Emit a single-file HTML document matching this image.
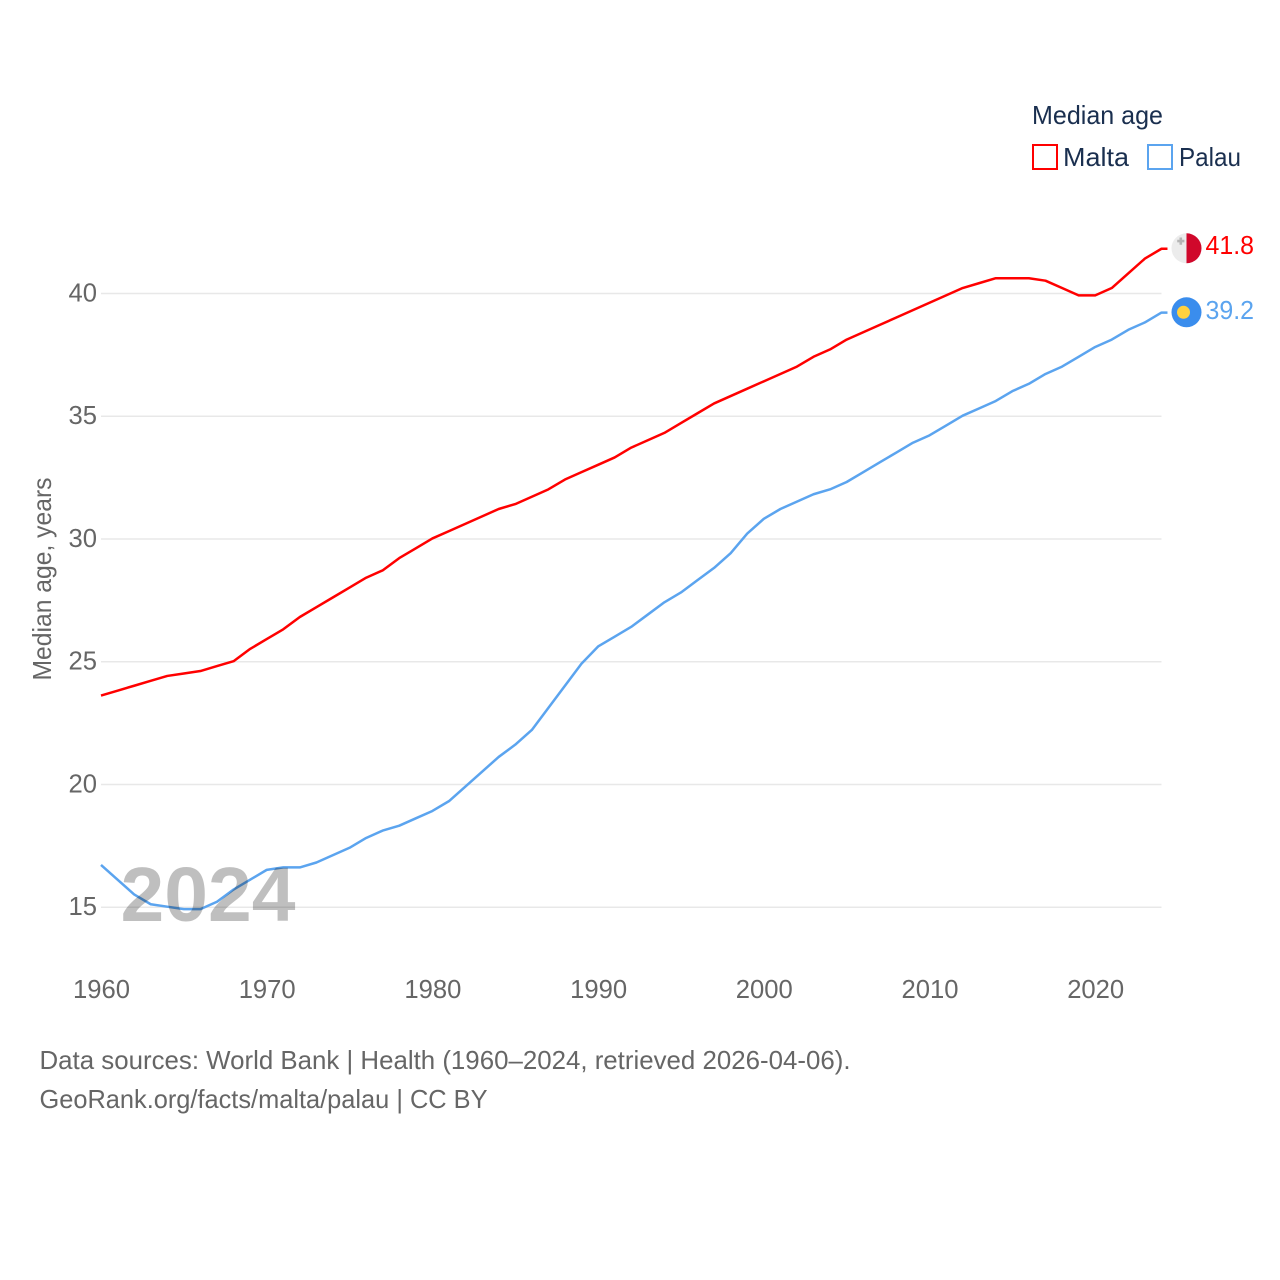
<!DOCTYPE html>
<html lang="en">
<head>
<meta charset="utf-8">
<title>Median age: Malta and Palau</title>
<style>
html,body{margin:0;padding:0;background:#fff}
svg{display:block;font-family:"Liberation Sans",sans-serif}
</style>
</head>
<body>
<svg id="chart" width="1280" height="1280" viewBox="0 0 1280 1280" xmlns="http://www.w3.org/2000/svg">
  <defs>
    <clipPath id="malta-clip"><circle cx="1186.5" cy="248.3" r="15"/></clipPath>
  </defs>
  <rect width="1280" height="1280" fill="#fff"/>
  <g id="grid"></g>
  <g id="y-ticks"></g>
  <g id="x-ticks"></g>
  <text transform="translate(51 579) rotate(-90)" text-anchor="middle" font-size="26" fill="#666" textLength="203" lengthAdjust="spacingAndGlyphs">Median age, years</text>
  <g id="series"></g>
  <text x="120.5" y="921" font-size="77" font-weight="700" fill="#000" fill-opacity="0.25" textLength="175" lengthAdjust="spacingAndGlyphs">2024</text>

  <g>
    <g clip-path="url(#malta-clip)">
      <rect x="1171" y="233" width="15.5" height="31" fill="#ececec"/>
      <rect x="1186.5" y="233" width="15.5" height="31" fill="#d0082b"/>
      <path d="M1179.5 237.5h2.6v2.3h2.3v2.6h-2.3v2.3h-2.6v-2.3h-2.3v-2.6h2.3z" fill="#b5b5b5"/>
    </g>
  </g>
  <g>
    <circle cx="1186.5" cy="312.3" r="15" fill="#3a8ded"/>
    <circle cx="1183.5" cy="312.3" r="6.5" fill="#ffd13f"/>
  </g>
  <text x="1205.5" y="254" font-size="26" fill="#ff0000" textLength="48.5" lengthAdjust="spacingAndGlyphs">41.8</text>
  <text x="1205.5" y="319" font-size="26" fill="#5ba4ef" textLength="48.5" lengthAdjust="spacingAndGlyphs">39.2</text>

  <g>
    <text x="1032" y="124" font-size="26" fill="#1a2f4f" textLength="131" lengthAdjust="spacingAndGlyphs">Median age</text>
    <g>
      <rect x="1033" y="145" width="24" height="24" fill="#fff" stroke="#ff0000" stroke-width="2"/>
      <text x="1063" y="166" font-size="26" fill="#1a2f4f" textLength="66" lengthAdjust="spacingAndGlyphs">Malta</text>
    </g>
    <g>
      <rect x="1148" y="145" width="24" height="24" fill="#fff" stroke="#5ba4ef" stroke-width="2"/>
      <text x="1179" y="166" font-size="26" fill="#1a2f4f" textLength="62" lengthAdjust="spacingAndGlyphs">Palau</text>
    </g>
  </g>

  <g>
    <text x="39.5" y="1069" font-size="26" fill="#666" textLength="811" lengthAdjust="spacingAndGlyphs">Data sources: World Bank | Health (1960–2024, retrieved 2026-04-06).</text>
    <text x="39.5" y="1108" font-size="26" fill="#666" textLength="448" lengthAdjust="spacingAndGlyphs">GeoRank.org/facts/malta/palau | CC BY</text>
  </g>
</svg>
<script>
const startYear = 1960;
const maltaValues = [23.6,23.8,24.0,24.2,24.4,24.5,24.6,24.8,25.0,25.5,25.9,26.3,26.8,27.2,27.6,28.0,28.4,28.7,29.2,29.6,30.0,30.3,30.6,30.9,31.2,31.4,31.7,32.0,32.4,32.7,33.0,33.3,33.7,34.0,34.3,34.7,35.1,35.5,35.8,36.1,36.4,36.7,37.0,37.4,37.7,38.1,38.4,38.7,39.0,39.3,39.6,39.9,40.2,40.4,40.6,40.6,40.6,40.5,40.2,39.9,39.9,40.2,40.8,41.4,41.8];
const palauValues = [16.7,16.1,15.5,15.1,15.0,14.9,14.9,15.2,15.7,16.1,16.5,16.6,16.6,16.8,17.1,17.4,17.8,18.1,18.3,18.6,18.9,19.3,19.9,20.5,21.1,21.6,22.2,23.1,24.0,24.9,25.6,26.0,26.4,26.9,27.4,27.8,28.3,28.8,29.4,30.2,30.8,31.2,31.5,31.8,32.0,32.3,32.7,33.1,33.5,33.9,34.2,34.6,35.0,35.3,35.6,36.0,36.3,36.7,37.0,37.4,37.8,38.1,38.5,38.8,39.2];
const yTickValues = [15,20,25,30,35,40];
const xTickValues = [1960,1970,1980,1990,2000,2010,2020];

const NS = 'http://www.w3.org/2000/svg';
function xScale(year){ return 101 + (year - 1960) * 16.57; }
function yScale(v){ return 907.2 - (v - 15) * 24.55; }
function lineY(v){ return yScale(v) - 0.5; }

const gridGroup = document.getElementById('grid');
const yGroup = document.getElementById('y-ticks');
const xGroup = document.getElementById('x-ticks');
const seriesGroup = document.getElementById('series');

yTickValues.forEach(function(v){
  const line = document.createElementNS(NS, 'line');
  
  
  line.setAttribute('x1', xScale(1960));
  line.setAttribute('x2', xScale(2024));
  line.setAttribute('y1', yScale(v));
  line.setAttribute('y2', yScale(v));
  line.setAttribute('stroke', '#e8e8e8');
  line.setAttribute('stroke-width', '1.5');
  gridGroup.appendChild(line);

  const label = document.createElementNS(NS, 'text');
  
  
  label.setAttribute('x', 97);
  label.setAttribute('y', yScale(v) + 8);
  label.setAttribute('text-anchor', 'end');
  label.setAttribute('font-size', '26');
  label.setAttribute('fill', '#666');
  label.setAttribute('textLength', '28.5');
  label.setAttribute('lengthAdjust', 'spacingAndGlyphs');
  label.textContent = v;
  yGroup.appendChild(label);
});

xTickValues.forEach(function(y){
  const label = document.createElementNS(NS, 'text');
  
  
  label.setAttribute('x', xScale(y) + 0.5);
  label.setAttribute('y', 998);
  label.setAttribute('text-anchor', 'middle');
  label.setAttribute('font-size', '26');
  label.setAttribute('fill', '#666');
  label.setAttribute('textLength', '57');
  label.setAttribute('lengthAdjust', 'spacingAndGlyphs');
  label.textContent = y;
  xGroup.appendChild(label);
});

function linePath(values){
  let d = '';
  values.forEach(function(v, i){
    d += (i ? 'L' : 'M') + xScale(startYear + i).toFixed(2) + ' ' + lineY(v).toFixed(2);
  });
  const lastYear = startYear + values.length - 1;
  d += 'L' + (xScale(lastYear) + 6).toFixed(2) + ' ' + lineY(values[values.length - 1]).toFixed(2);
  return d;
}

const maltaLine = document.createElementNS(NS, 'path');


maltaLine.setAttribute('d', linePath(maltaValues));
maltaLine.setAttribute('fill', 'none');
maltaLine.setAttribute('stroke', '#ff0000');
maltaLine.setAttribute('stroke-width', '2.5');
maltaLine.setAttribute('stroke-linejoin', 'round');
seriesGroup.appendChild(maltaLine);

const palauLine = document.createElementNS(NS, 'path');


palauLine.setAttribute('d', linePath(palauValues));
palauLine.setAttribute('fill', 'none');
palauLine.setAttribute('stroke', '#5ba4ef');
palauLine.setAttribute('stroke-width', '2.5');
palauLine.setAttribute('stroke-linejoin', 'round');
seriesGroup.appendChild(palauLine);
</script>
</body>
</html>
